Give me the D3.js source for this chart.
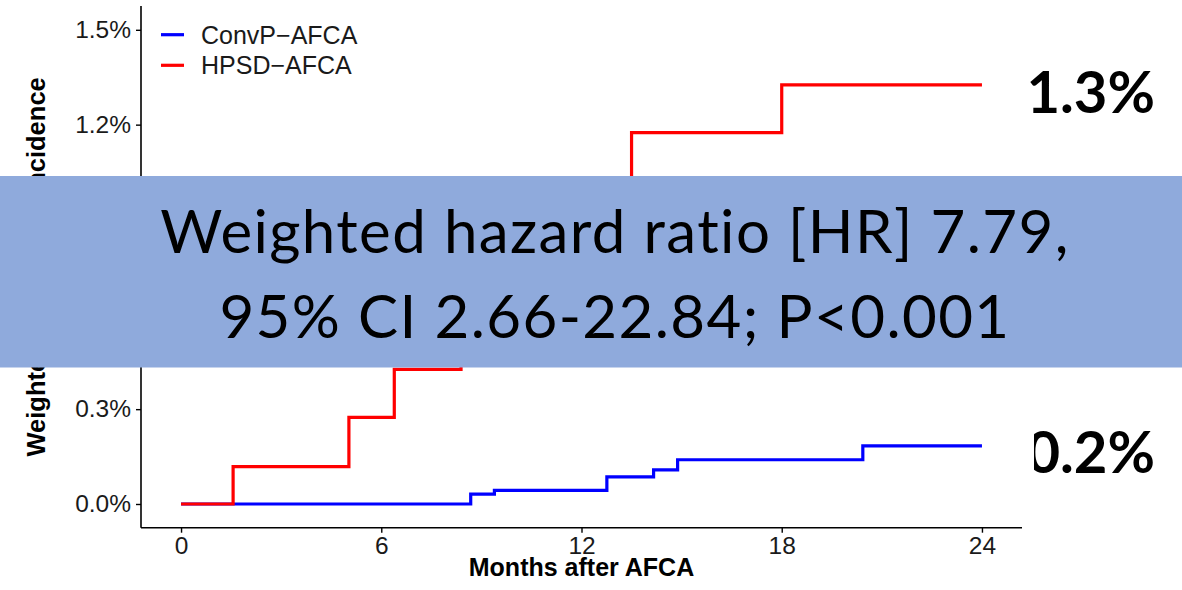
<!DOCTYPE html>
<html>
<head>
<meta charset="utf-8">
<script src="https://cdn.jsdelivr.net/npm/d3@7"></script>
<style>
  body { margin: 0; background: #fff; }
  svg { display: block; }
</style>
</head>
<body>
<svg id="chart" width="1182" height="590"></svg>
<script>
// Data (cumulative incidence in %)
const groups = ["ConvP\u2212AFCA", "HPSD\u2212AFCA"];
const colors = ["#0000ff", "#ff0000"];

const convpMonths = [0, 8.68, 9.39, 12.76, 14.16, 14.88, 20.43, 24];
const convpCum    = [0, 0.031, 0.043, 0.086, 0.108, 0.140, 0.184, 0.184];

const hpsdMonths = [0, 1.56, 5.03, 6.39, 8.39, 10.6, 13.5, 18.0, 24];
const hpsdCum    = [0, 0.118, 0.274, 0.426, 0.62, 0.90, 1.175, 1.326, 1.326];

const xTicks = [0, 6, 12, 18, 24];
const yTicks = [0, 0.3, 0.6, 0.9, 1.2, 1.5];

const endLabels = ["1.3%", "0.2%"];
const bannerLines = ["Weighted hazard ratio [HR] 7.79,", "95% CI 2.66-22.84; P<0.001"];

const svg = d3.select("#chart");
const font = "'Liberation Sans', Arial, sans-serif";

// scales (ggplot style 5% expansion)
const x = d3.scaleLinear().domain([-1.2, 25.2]).range([141, 1022]);
const y = d3.scaleLinear().domain([-0.075, 1.575]).range([527.7, 6.1]);

// axes
const xAxis = svg.append("g")
    .attr("transform", `translate(0,${y.range()[0]})`)
    .call(d3.axisBottom(x).tickValues(xTicks).tickSize(5).tickPadding(4));
const yAxis = svg.append("g")
    .attr("transform", `translate(${x.range()[0]},0)`)
    .call(d3.axisLeft(y).tickValues(yTicks).tickSize(5).tickPadding(5)
        .tickFormat(d => d3.format(".1f")(d) + "%"));

[xAxis, yAxis].forEach(g => {
    g.select(".domain").attr("stroke", "#000").attr("stroke-width", 1.6);
    g.selectAll(".tick line").attr("stroke", "#000").attr("stroke-width", 1.4);
    g.selectAll(".tick text")
        .attr("fill", "#1a1a1a")
        .style("font-family", font)
        .style("font-size", "24.5px");
});
// keep the domains without outer tick stubs
xAxis.select(".domain").attr("d", `M${x.range()[0]},0H${x.range()[1]}`);
yAxis.select(".domain").attr("d", `M0,${y.range()[0]}V${y.range()[1]}`);

// axis titles
svg.append("text")
    .attr("x", (x.range()[0] + x.range()[1]) / 2)
    .attr("y", 576)
    .attr("text-anchor", "middle")
    .style("font-family", font)
    .style("font-weight", "bold")
    .style("font-size", "25px")
    .text("Months after AFCA");

svg.append("text")
    .attr("transform", `translate(45,${(y.range()[0] + y.range()[1]) / 2}) rotate(-90)`)
    .attr("text-anchor", "middle")
    .style("font-family", font)
    .style("font-weight", "bold")
    .style("font-size", "25.5px")
    .text("Weighted cumulative incidence");

// step curves
const line = d3.line()
    .x(d => x(d[0]))
    .y(d => y(d[1]))
    .curve(d3.curveStepAfter);

const series = [
    d3.zip(convpMonths, convpCum),
    d3.zip(hpsdMonths, hpsdCum)
];

series.forEach((s, i) => {
    svg.append("path")
        .datum(s)
        .attr("fill", "none")
        .attr("stroke", colors[i])
        .attr("stroke-width", 3.2)
        .attr("d", line);
});

// legend
const legend = svg.append("g");
groups.forEach((g, i) => {
    const cy = 34.7 + i * 30.6;
    legend.append("line")
        .attr("x1", 161).attr("x2", 184)
        .attr("y1", cy).attr("y2", cy)
        .attr("stroke", colors[i])
        .attr("stroke-width", 3.2);
    legend.append("text")
        .attr("x", 201)
        .attr("y", cy + 9)
        .attr("fill", "#1a1a1a")
        .style("font-family", font)
        .style("font-size", "25px")
        .text(g);
});

// end labels at the right
svg.append("defs").append("clipPath").attr("id", "clip-end")
    .append("rect").attr("x", 1034).attr("y", 0).attr("width", 148).attr("height", 590);

const endY = [113, 472.7];
endLabels.forEach((t, i) => {
    svg.append("text")
        .attr("x", 1155)
        .attr("y", endY[i])
        .attr("text-anchor", "end")
        .attr("clip-path", i === 1 ? "url(#clip-end)" : null)
        .style("font-family", "Lato, 'Open Sans', sans-serif")
        .style("font-weight", "bold")
        .style("font-size", "58px")
        .text(t);
});

// banner with hazard ratio
svg.append("rect")
    .attr("x", 0).attr("y", 176)
    .attr("width", 1182).attr("height", 191.5)
    .attr("fill", "#8faadc");

bannerLines.forEach((t, i) => {
    svg.append("text")
        .attr("x", 615)
        .attr("y", 253 + i * 85)
        .attr("text-anchor", "middle")
        .style("font-family", "Lato, 'Open Sans', sans-serif")
        .style("font-size", "60px")
        .style("letter-spacing", "1.4px")
        .attr("fill", "#000")
        .text(t);
});
</script>
</body>
</html>
